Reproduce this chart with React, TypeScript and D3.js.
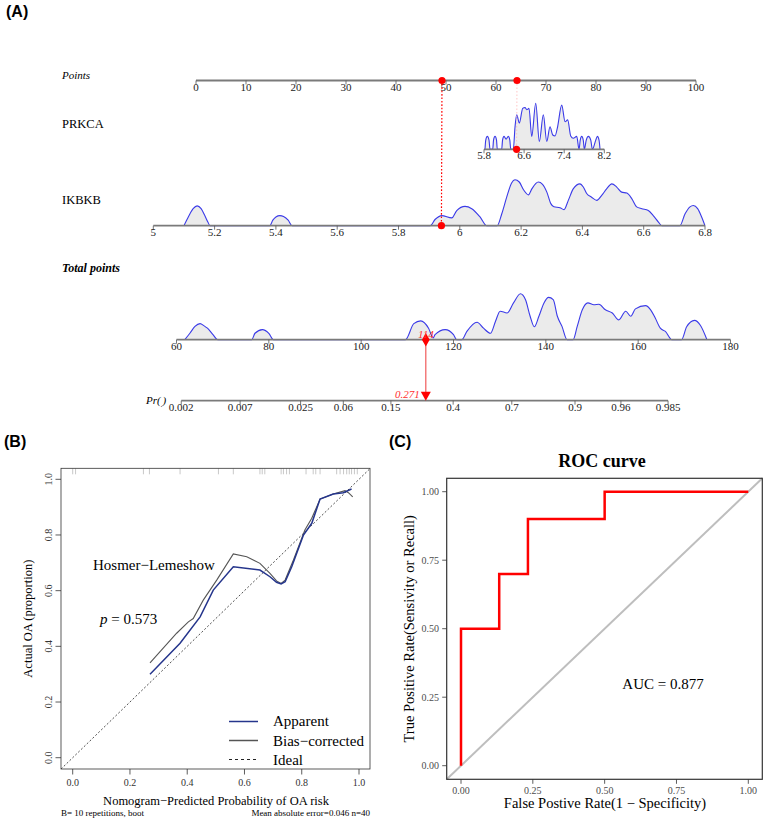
import React from "react";
import * as d3 from "d3";

const W = 767;
const H = 820;
const SERIF = "'Liberation Serif', 'Times New Roman', serif";
const SANS = "'Liberation Sans', Arial, sans-serif";

// ---- nomogram (A) ----
const pointTicks = [0, 10, 20, 30, 40, 50, 60, 70, 80, 90, 100];
const prkcaTicks = [5.8, 6.6, 7.4, 8.2];
const ikbkbTicks = [5, 5.2, 5.4, 5.6, 5.8, 6, 6.2, 6.4, 6.6, 6.8];
const totalTicks = [60, 80, 100, 120, 140, 160, 180];
const prTicks = [0.002, 0.007, 0.025, 0.06, 0.15, 0.4, 0.7, 0.9, 0.96, 0.985];

// relative kernel density of each predictor / of total points
const prkcaDensity: [number, number][] = [
  [5.82, 0], [5.835, 0.2], [5.866, 0.28], [5.9, 0.2], [5.92, 0],
  [5.974, 0], [5.99, 0.2], [6.02, 0.28], [6.05, 0.2], [6.065, 0],
  [6.153, 0], [6.17, 0.2], [6.2, 0.28], [6.24, 0.22], [6.285, 0.28], [6.315, 0.2], [6.333, 0],
  [6.385, 0], [6.419, 0.49], [6.453, 0.75], [6.505, 0.57], [6.572, 0.89], [6.618, 0.91],
  [6.652, 0.86], [6.698, 0.89], [6.752, 0.28], [6.832, 1.0], [6.904, 0.17], [6.984, 0.75],
  [7.052, 0.17], [7.117, 0.49], [7.171, 0.31], [7.217, 0.29], [7.263, 0.46], [7.351, 0.96],
  [7.417, 0.6], [7.47, 0.64], [7.53, 0.29], [7.582, 0.24], [7.65, 0.28], [7.696, 0],
  [7.72, 0.2], [7.75, 0.28], [7.78, 0.2], [7.802, 0],
  [7.84, 0.2], [7.882, 0.28], [7.93, 0.2], [7.962, 0],
  [8.03, 0.2], [8.062, 0.28], [8.095, 0.2], [8.115, 0],
];

const ikbkbDensity: [number, number][] = [
  [5.1, 0], [5.115, 0.2], [5.13, 0.37], [5.143, 0.43], [5.156, 0.37], [5.168, 0.22], [5.178, 0.08], [5.185, 0],
  [5.38, 0], [5.39, 0.12], [5.4, 0.19], [5.413, 0.22], [5.425, 0.2], [5.44, 0.12], [5.453, 0],
  [5.903, 0], [5.92, 0.14], [5.941, 0.22], [5.974, 0.17], [5.99, 0.33], [6.017, 0.42],
  [6.039, 0.37], [6.066, 0.19], [6.088, 0],
  [6.122, 0], [6.137, 0.26], [6.153, 0.62], [6.169, 0.93], [6.18, 1.0], [6.194, 0.95],
  [6.209, 0.77], [6.224, 0.67], [6.235, 0.8], [6.256, 0.95], [6.27, 0.9], [6.284, 0.73],
  [6.297, 0.48], [6.307, 0.41], [6.327, 0.39], [6.34, 0.35], [6.354, 0.55], [6.37, 0.8],
  [6.392, 0.91], [6.403, 0.84], [6.414, 0.7], [6.43, 0.62], [6.447, 0.55], [6.463, 0.66],
  [6.479, 0.8], [6.496, 0.91], [6.512, 0.84], [6.528, 0.73], [6.545, 0.71], [6.561, 0.59],
  [6.577, 0.41], [6.594, 0.37], [6.615, 0.33], [6.631, 0.22], [6.648, 0.08], [6.659, 0],
  [6.718, 0], [6.735, 0.26], [6.751, 0.41], [6.762, 0.44], [6.776, 0.37], [6.789, 0.19], [6.8, 0],
];

const totalDensity: [number, number][] = [
  [61.8, 0], [62.9, 0.14], [64.0, 0.29], [65.1, 0.35], [66.0, 0.3], [66.7, 0.25], [67.9, 0.11], [68.9, 0],
  [76.3, 0], [77.0, 0.14], [78.6, 0.22], [80.0, 0.14], [81.0, 0],
  [109.6, 0], [111.4, 0.35], [112.9, 0.41], [114.6, 0.25], [115.6, 0.04], [116.0, 0.11],
  [118.2, 0.22], [120.0, 0.11], [120.7, 0],
  [121.8, 0], [122.9, 0.18], [125.1, 0.38], [126.5, 0.25], [128.0, 0.14], [129.1, 0.4],
  [130.1, 0.62], [131.6, 0.58], [133.0, 0.8], [134.5, 1.0], [135.6, 0.87], [136.6, 0.51],
  [137.5, 0.28], [138.5, 0.51], [139.6, 0.8], [140.6, 0.92], [141.6, 0.87], [142.5, 0.51],
  [143.5, 0.29], [144.6, 0],
  [145.9, 0], [146.8, 0.29], [147.9, 0.65], [149.1, 0.8], [150.4, 0.76], [151.5, 0.77],
  [152.9, 0.65], [154.4, 0.58], [155.8, 0.43], [157.3, 0.62], [158.4, 0.51], [159.4, 0.67],
  [161.6, 0.74], [162.7, 0.65], [163.7, 0.47], [164.8, 0.25], [165.9, 0.18], [167.3, 0],
  [169.4, 0], [170.5, 0.28], [172.2, 0.42], [173.5, 0.31], [174.9, 0],
];

// the scored case
const casePrkca = 6.45;
const caseIkbkb = 5.94;
const casePrkcaPts = 64.2;
const caseIkbkbPts = 49.2;
const caseTotal = 114;
const casePr = 0.271;
const prSlope = 0.0986; // logit change per total point

// ---- calibration (B) ----
const apparentX = [0.27, 0.375, 0.445, 0.491, 0.561, 0.654, 0.689, 0.712, 0.728, 0.742, 0.765, 0.806, 0.835, 0.864, 0.91, 0.945, 0.974];
const apparentY = [0.3, 0.411, 0.506, 0.602, 0.686, 0.674, 0.65, 0.63, 0.624, 0.632, 0.686, 0.8, 0.842, 0.929, 0.947, 0.952, 0.965];
const biasX = [0.27, 0.363, 0.404, 0.421, 0.456, 0.503, 0.561, 0.608, 0.654, 0.689, 0.712, 0.728, 0.742, 0.771, 0.811, 0.835, 0.864, 0.91, 0.951, 0.963, 0.978];
const biasY = [0.341, 0.447, 0.488, 0.5, 0.566, 0.638, 0.732, 0.722, 0.698, 0.662, 0.635, 0.626, 0.638, 0.71, 0.818, 0.86, 0.929, 0.947, 0.959, 0.952, 0.937];
const rugValues = [0.0, 0.01, 0.247, 0.268, 0.375, 0.509, 0.561, 0.654, 0.662, 0.671, 0.728, 0.736, 0.747, 0.757, 0.815, 0.84, 0.849, 0.864, 0.922, 0.934, 0.946, 0.957, 0.966, 0.974, 0.984, 0.994];
const calTicks = [0, 0.2, 0.4, 0.6, 0.8, 1.0];

// ---- ROC (C) ----
const rocFpr = [0, 0, 0.133, 0.233, 0.5, 1];
const rocTpr = [0, 0.5, 0.7, 0.9, 1, 1];
const rocTicks = [0, 0.25, 0.5, 0.75, 1];

const logit = (p: number) => Math.log(p / (1 - p));

function NomoAxis({ scale, ticks, y, fmt }: any) {
  const [a, b] = scale.domain();
  return (
    <g>
      <line x1={scale(a)} x2={scale(b)} y1={y} y2={y} stroke="#7a7a7a" strokeWidth={1.8} />
      {ticks.map((t: number) => (
        <g key={t}>
          <line x1={scale(t)} x2={scale(t)} y1={y} y2={y + 4} stroke="#555" strokeWidth={0.8} />
          <text x={scale(t)} y={y + 10} textAnchor="middle" fontSize={11} fill="#222">
            {fmt ? fmt(t) : String(t)}
          </text>
        </g>
      ))}
    </g>
  );
}

function Density({ data, sx, base }: any) {
  const hs = d3.scaleLinear().domain([0, 1]).range([0, 46]);
  const area = d3
    .area<[number, number]>()
    .x((d) => sx(d[0]))
    .y0(base)
    .y1((d) => base - hs(d[1]))
    .curve(d3.curveMonotoneX);
  const line = d3
    .line<[number, number]>()
    .x((d) => sx(d[0]))
    .y((d) => base - hs(d[1]))
    .curve(d3.curveMonotoneX);
  return (
    <g>
      <path d={area(data) || ""} fill="#ebebeb" />
      <path d={line(data) || ""} fill="none" stroke="#3a3ae8" strokeWidth={1.1} />
    </g>
  );
}

function Nomogram() {
  const pointsX = d3.scaleLinear().domain([0, 100]).range([196, 696]);
  const prkcaX = d3.scaleLinear().domain([5.8, 8.2]).range([484, 604.3]);
  const ikbkbX = d3.scaleLinear().domain([5, 6.8]).range([153.3, 705]);
  const totalX = d3.scaleLinear().domain([60, 180]).range([176.5, 730.5]);
  const tp0 = caseTotal - logit(casePr) / prSlope;
  const prX: any = (p: number) => totalX(tp0 + logit(p) / prSlope);
  prX.domain = () => [prTicks[0], prTicks[prTicks.length - 1]];

  const yPts = 80.5;
  const yPrkca = 149.3;
  const yIkbkb = 225.7;
  const yTotal = 339.7;
  const yPr = 400.7;

  const cx = totalX(caseTotal);
  const px = prX(casePr);
  const diamond = d3.symbol(d3.symbolDiamond, 52)();
  const tri = d3.line()([
    [px - 5, yPr - 9],
    [px + 5, yPr - 9],
    [px, yPr],
  ]) + "Z";

  return (
    <g fontFamily={SERIF}>
      <text x={6} y={17} fontFamily={SANS} fontWeight="bold" fontSize={16}>(A)</text>

      <text x={62} y={79} fontStyle="italic" fontSize={11}>Points</text>
      <text x={62} y={127.5} fontSize={12.5}>PRKCA</text>
      <text x={62} y={204} fontSize={12.5}>IKBKB</text>
      <text x={62} y={272} fontStyle="italic" fontWeight="bold" fontSize={12}>Total points</text>
      <text x={146} y={404} fontStyle="italic" fontSize={11}>
        Pr(<tspan fontSize={7} dy={3}>.</tspan><tspan dy={-3}>)</tspan>
      </text>

      <Density data={prkcaDensity} sx={prkcaX} base={yPrkca} />
      <Density data={ikbkbDensity} sx={ikbkbX} base={yIkbkb} />
      <Density data={totalDensity} sx={totalX} base={yTotal} />

      <NomoAxis scale={pointsX} ticks={pointTicks} y={yPts} />
      <NomoAxis scale={prkcaX} ticks={prkcaTicks} y={yPrkca} />
      <NomoAxis scale={ikbkbX} ticks={ikbkbTicks} y={yIkbkb} />
      <NomoAxis scale={totalX} ticks={totalTicks} y={yTotal} />
      <NomoAxis scale={prX} ticks={prTicks} y={yPr} />

      {/* case projection */}
      <line x1={pointsX(caseIkbkbPts)} x2={ikbkbX(caseIkbkb)} y1={yPts} y2={yIkbkb}
        stroke="#ff0000" strokeWidth={1.2} strokeDasharray="1.6 1.8" />
      <line x1={pointsX(casePrkcaPts)} x2={prkcaX(casePrkca)} y1={yPts} y2={yPrkca}
        stroke="#ffb8b8" strokeWidth={0.8} strokeDasharray="1.5 2" />
      <circle cx={pointsX(caseIkbkbPts)} cy={yPts} r={3.6} fill="#ff0000" />
      <circle cx={pointsX(casePrkcaPts)} cy={yPts} r={3.6} fill="#ff0000" />
      <circle cx={prkcaX(casePrkca)} cy={yPrkca} r={3.6} fill="#ff0000" />
      <circle cx={ikbkbX(caseIkbkb)} cy={yIkbkb} r={3.6} fill="#ff0000" />

      <line x1={cx} x2={px} y1={yTotal} y2={yPr - 8} stroke="#f05a5a" strokeWidth={1.2} />
      <path d={diamond || ""} transform={`translate(${cx},${yTotal})`} fill="#ff0000" />
      <text x={cx} y={yTotal - 2} textAnchor="middle" fontStyle="italic" fontSize={11} fill="#ff3030">
        {caseTotal}
      </text>
      <path d={tri} fill="#ff0000" />
      <text x={px - 6} y={yPr - 3} textAnchor="end" fontStyle="italic" fontSize={11} fill="#ff3030">
        {casePr}
      </text>
    </g>
  );
}

function Calibration() {
  const x = d3.scaleLinear().domain([0, 1]).range([72.7, 359]);
  const y = d3.scaleLinear().domain([0, 1]).range([757.7, 479.3]);
  const box = { l: 61, r: 370, t: 468.3, b: 769 };
  const app = d3
    .line<number>()
    .x((_, i) => x(apparentX[i]))
    .y((d) => y(d))(apparentY) || "";
  const bias = d3
    .line<number>()
    .x((_, i) => x(biasX[i]))
    .y((d) => y(d))(biasY) || "";
  const lo = x.invert(box.l);
  const hi = x.invert(box.r);

  return (
    <g fontFamily={SERIF}>
      <text x={4} y={447} fontFamily={SANS} fontWeight="bold" fontSize={16}>(B)</text>
      <defs>
        <clipPath id="calClip">
          <rect x={box.l} y={box.t} width={box.r - box.l} height={box.b - box.t} />
        </clipPath>
      </defs>
      <g clipPath="url(#calClip)">
        {rugValues.map((v, i) => (
          <line key={i} x1={x(v)} x2={x(v)} y1={box.t} y2={box.t + 6} stroke="#b0b0b0" strokeWidth={0.7} />
        ))}
        <line x1={x(lo)} y1={y(lo)} x2={x(hi)} y2={y(hi)} stroke="#222" strokeWidth={0.8} strokeDasharray="2 2" />
        <path d={bias} fill="none" stroke="#555" strokeWidth={1.1} />
        <path d={app} fill="none" stroke="#25358c" strokeWidth={1.5} />
      </g>
      <rect x={box.l} y={box.t} width={box.r - box.l} height={box.b - box.t} fill="none" stroke="#333" strokeWidth={0.8} />

      {calTicks.map((t) => (
        <g key={t}>
          <line x1={box.l - 5.5} x2={box.l} y1={y(t)} y2={y(t)} stroke="#333" strokeWidth={0.8} />
          <text transform={`translate(52,${y(t)}) rotate(-90)`} textAnchor="middle" fontSize={10} fill="#333">
            {t.toFixed(1)}
          </text>
          <line x1={x(t)} x2={x(t)} y1={box.b} y2={box.b + 5.5} stroke="#333" strokeWidth={0.8} />
          <text x={x(t)} y={786} textAnchor="middle" fontSize={10} fill="#333">
            {t.toFixed(1)}
          </text>
        </g>
      ))}

      <text x={216} y={804.5} textAnchor="middle" fontSize={12.5}>Nomogram−Predicted Probability of OA risk</text>
      <text transform={`translate(32,${(box.t + box.b) / 2}) rotate(-90)`} textAnchor="middle" fontSize={12.5}>
        Actual OA (proportion)
      </text>
      <text x={61} y={816} fontSize={9}>B= 10 repetitions, boot</text>
      <text x={370} y={816} textAnchor="end" fontSize={9}>Mean absolute error=0.046 n=40</text>

      <text x={93} y={570} fontSize={15}>Hosmer−Lemeshow</text>
      <text x={100} y={624} fontSize={15}>
        <tspan fontStyle="italic">p</tspan> = 0.573
      </text>

      <line x1={229} x2={258} y1={721.5} y2={721.5} stroke="#25358c" strokeWidth={1.5} />
      <line x1={229} x2={258} y1={740.5} y2={740.5} stroke="#555" strokeWidth={1.5} />
      <line x1={229} x2={258} y1={759.5} y2={759.5} stroke="#222" strokeWidth={1} strokeDasharray="3 3" />
      <text x={273} y={726} fontSize={15}>Apparent</text>
      <text x={273} y={745.5} fontSize={15}>Bias−corrected</text>
      <text x={273} y={765} fontSize={15}>Ideal</text>
    </g>
  );
}

function Roc() {
  const x = d3.scaleLinear().domain([0, 1]).range([461, 748.3]);
  const y = d3.scaleLinear().domain([0, 1]).range([765.7, 491.7]);
  const box = { l: 446.7, r: 762.3, t: 478.3, b: 779.3 };
  const roc = d3
    .line<number>()
    .x((_, i) => x(rocFpr[i]))
    .y((d) => y(d))
    .curve(d3.curveStepAfter)(rocTpr) || "";
  const lo = x.invert(box.l);
  const hi = x.invert(box.r);

  return (
    <g fontFamily={SERIF}>
      <text x={389} y={447} fontFamily={SANS} fontWeight="bold" fontSize={16}>(C)</text>
      <text x={602} y={467} textAnchor="middle" fontWeight="bold" fontSize={18}>ROC curve</text>

      <line x1={x(lo)} y1={y(lo)} x2={x(hi)} y2={y(hi)} stroke="#bebebe" strokeWidth={2} />
      <path d={roc} fill="none" stroke="#ff0000" strokeWidth={2.5} />
      <rect x={box.l} y={box.t} width={box.r - box.l} height={box.b - box.t} fill="none" stroke="#333" strokeWidth={1.2} />

      {rocTicks.map((t) => (
        <g key={t}>
          <line x1={box.l - 4.5} x2={box.l} y1={y(t)} y2={y(t)} stroke="#333" strokeWidth={0.8} />
          <text x={439} y={y(t) + 3.5} textAnchor="end" fontSize={10} fill="#4d4d4d">
            {t.toFixed(2)}
          </text>
          <line x1={x(t)} x2={x(t)} y1={box.b} y2={box.b + 4.5} stroke="#333" strokeWidth={0.8} />
          <text x={x(t)} y={794} textAnchor="middle" fontSize={10} fill="#4d4d4d">
            {t.toFixed(2)}
          </text>
        </g>
      ))}

      <text x={605} y={808} textAnchor="middle" fontSize={14.5}>False Postive Rate(1 − Specificity)</text>
      <text transform={`translate(414,${(box.t + box.b) / 2}) rotate(-90)`} textAnchor="middle" fontSize={14.5}>
        True Positive Rate(Sensivity or Recall)
      </text>
      <text x={663} y={689} textAnchor="middle" fontSize={15}>AUC = 0.877</text>
    </g>
  );
}

export default function App() {
  return (
    <div style={{ position: "absolute", left: 0, top: 0 }}>
      <svg width={W} height={H} viewBox={`0 0 ${W} ${H}`} style={{ display: "block", background: "#fff" }}>
        <rect width={W} height={H} fill="#fff" />
        <Nomogram />
        <Calibration />
        <Roc />
      </svg>
    </div>
  );
}
